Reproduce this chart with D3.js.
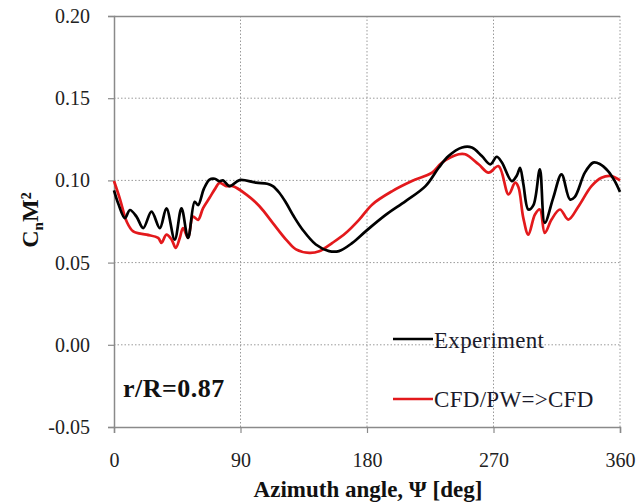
<!DOCTYPE html>
<html><head><meta charset="utf-8">
<script src="https://cdn.jsdelivr.net/npm/d3@7"></script>
<style>body{margin:0;background:#fff}svg{display:block}</style>
</head><body>
<svg id="c" width="639" height="504"></svg>
<script>
const xTicks = [0, 90, 180, 270, 360];
const yTicks = [-0.05, 0.00, 0.05, 0.10, 0.15, 0.20];
const seriesNames = ["Experiment", "CFD/PW=>CFD"];
const experiment = [[0,0.094],[3,0.086],[7.8,0.077],[11.3,0.082],[16,0.078],[20.8,0.071],[26.7,0.081],[32.6,0.071],[37.3,0.083],[43.2,0.064],[48,0.083],[52.7,0.065],[57.4,0.087],[59.8,0.085],[64,0.095],[68,0.1005],[71.7,0.101],[75.1,0.0995],[77.5,0.1],[82.2,0.0965],[89.3,0.1002],[101,0.0986],[109,0.098],[113,0.0965],[117.6,0.0925],[122.4,0.0864],[128,0.078],[134.2,0.070],[143.6,0.061],[153,0.057],[160,0.057],[169.6,0.062],[179,0.069],[193.3,0.079],[207.5,0.0874],[221.6,0.0965],[231,0.1077],[238,0.1148],[247.6,0.12],[254.6,0.12],[261.7,0.1148],[267.7,0.1098],[272.3,0.1144],[275.9,0.111],[283,0.0996],[286.6,0.103],[288.9,0.1077],[291.2,0.098],[294.8,0.0823],[298.4,0.085],[303,0.1067],[306.5,0.0742],[312.5,0.0894],[318.4,0.1037],[324.4,0.0884],[327.9,0.090],[335,0.1047],[340.9,0.1108],[345.6,0.110],[351.5,0.1057],[356.3,0.0996],[360,0.093]];
const cfd = [[0,0.0996],[4.3,0.0885],[9,0.075],[13.7,0.069],[23.2,0.067],[31.4,0.065],[33.8,0.062],[37.3,0.067],[41,0.064],[43.9,0.059],[46.8,0.065],[49.1,0.071],[52.7,0.065],[56.2,0.078],[59.8,0.076],[63.3,0.083],[68,0.0894],[72,0.095],[75.1,0.0985],[79.8,0.0965],[84.5,0.0965],[94,0.0915],[103.5,0.0843],[112.9,0.0742],[122.4,0.064],[129.5,0.058],[138.9,0.0559],[146,0.0569],[155.4,0.062],[164.9,0.068],[174.3,0.076],[183.8,0.0854],[198,0.0935],[212,0.0996],[226.3,0.1047],[233.4,0.1108],[245.2,0.1159],[249.9,0.1159],[259.4,0.1098],[266.5,0.1047],[273.6,0.1087],[280.7,0.0915],[285.4,0.0986],[287.7,0.096],[291.2,0.0772],[294.8,0.067],[299.5,0.0793],[303,0.0823],[306.5,0.068],[311.3,0.0762],[317.3,0.0823],[323.2,0.0762],[330.3,0.084],[339.7,0.0965],[346.8,0.1016],[353.9,0.1026],[360,0.100]];

const svg = d3.select("#c");
const L = 114, R = 620, T = 16, B = 427;
const x = d3.scaleLinear().domain([0, 360]).range([L, R]);
const y = d3.scaleLinear().domain([-0.05, 0.20]).range([B, T]);
const font = "'Liberation Serif','Times New Roman',serif";

// grid
svg.append("g").selectAll("line").data(yTicks.filter(d => d > -0.05 && d < 0.20)).join("line")
  .attr("x1", L).attr("x2", R).attr("y1", d => y(d)).attr("y2", d => y(d))
  .attr("stroke", "#9a9a9a").attr("stroke-width", 1).attr("stroke-dasharray", "1.5,2");
svg.append("g").selectAll("line").data(xTicks.filter(d => d > 0)).join("line")
  .attr("x1", d => x(d)).attr("x2", d => x(d)).attr("y1", T).attr("y2", B)
  .attr("stroke", "#9a9a9a").attr("stroke-width", 1).attr("stroke-dasharray", "1.5,2");
// top border
svg.append("line").attr("x1", L).attr("x2", R).attr("y1", T + 0.5).attr("y2", T + 0.5)
  .attr("stroke", "#8a8a8a").attr("stroke-width", 1.5);

// axes
const yAxis = d3.axisLeft(y).tickValues(yTicks).tickFormat(d => d.toFixed(2)).tickSize(6).tickPadding(18);
const gy = svg.append("g").attr("transform", `translate(${L},0)`).call(yAxis);
const xAxis = d3.axisBottom(x).tickValues(xTicks).tickFormat(d3.format("d")).tickSize(6).tickPadding(20);
const gx = svg.append("g").attr("transform", `translate(0,${B})`).call(xAxis);
[gx, gy].forEach(g => {
  g.select(".domain").attr("stroke", "#8a8a8a").attr("stroke-width", 1.5);
  g.selectAll(".tick line").attr("stroke", "#8a8a8a").attr("stroke-width", 1.2);
  g.selectAll(".tick text").attr("font-family", font).attr("font-size", 20).attr("fill", "#222");
});
gy.selectAll(".tick text").attr("dy", "0.32em");

// lines
const line = d3.line().x(d => x(d[0])).y(d => y(d[1])).curve(d3.curveCatmullRom.alpha(0.5));
svg.append("path").datum(cfd).attr("d", line).attr("fill", "none")
  .attr("stroke", "#e3191c").attr("stroke-width", 2.7).attr("stroke-linejoin", "round");
svg.append("path").datum(experiment).attr("d", line).attr("fill", "none")
  .attr("stroke", "#000").attr("stroke-width", 2.7).attr("stroke-linejoin", "round");

// legend
const lg = [[seriesNames[0], "#000", 339, 348], [seriesNames[1], "#e3191c", 399, 407]];
lg.forEach(([name, col, yy, ty]) => {
  svg.append("line").attr("x1", 393).attr("x2", 433).attr("y1", yy).attr("y2", yy)
    .attr("stroke", col).attr("stroke-width", 2.7);
  svg.append("text").attr("x", 434).attr("y", ty).text(name)
    .attr("font-family", font).attr("font-size", 23).attr("letter-spacing", 0.3).attr("fill", "#1a1a2a");
});

// annotation
svg.append("text").attr("x", 123).attr("y", 397).text("r/R=0.87")
  .attr("font-family", font).attr("font-size", 26).attr("letter-spacing", 0.5)
  .attr("font-weight", "bold").attr("fill", "#111");

// axis titles
svg.append("text").attr("x", 368).attr("y", 497).attr("text-anchor", "middle")
  .attr("font-family", font).attr("font-size", 23).attr("font-weight", "bold").attr("fill", "#111")
  .text("Azimuth angle, Ψ [deg]");
const yt = svg.append("text").attr("transform", `translate(38,220) rotate(-90)`).attr("text-anchor", "middle")
  .attr("font-family", font).attr("font-size", 24).attr("font-weight", "bold").attr("fill", "#111");
yt.append("tspan").text("C");
yt.append("tspan").attr("font-size", 15).attr("dy", 5).text("n");
yt.append("tspan").attr("dy", -5).text("M²");
</script>
</body></html>
